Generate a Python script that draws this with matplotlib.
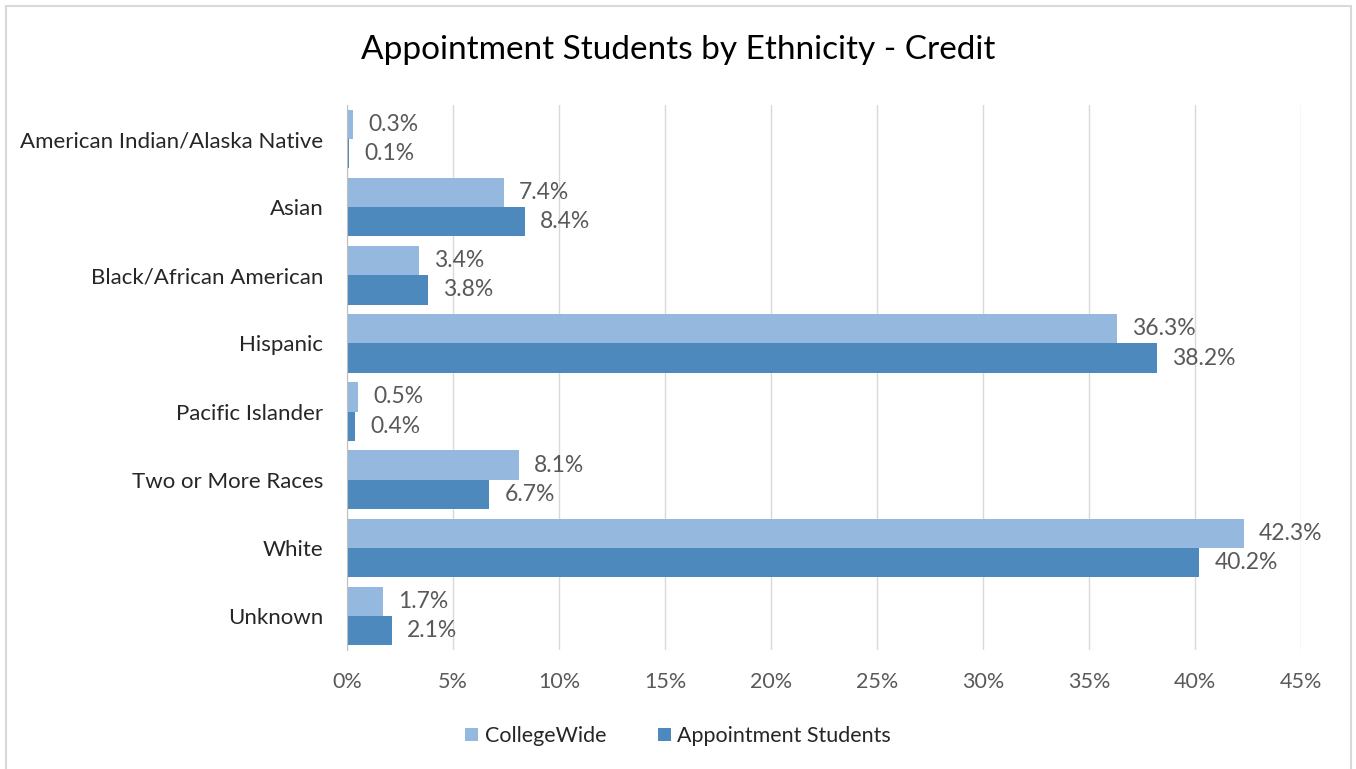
import numpy as np
import matplotlib.pyplot as plt
from matplotlib.patches import Rectangle

plt.rcParams['font.family'] = ['Lato', 'DejaVu Sans']

categories = ['American Indian/Alaska Native', 'Asian', 'Black/African American',
              'Hispanic', 'Pacific Islander', 'Two or More Races', 'White', 'Unknown']
collegewide = [0.3, 7.4, 3.4, 36.3, 0.5, 8.1, 42.3, 1.7]
appointment = [0.1, 8.4, 3.8, 38.2, 0.4, 6.7, 40.2, 2.1]
xticks = [0, 5, 10, 15, 20, 25, 30, 35, 40, 45]

light = '#95B8DF'
dark = '#4E89BE'
grey_txt = '#595959'

fig = plt.figure(figsize=(13.56, 7.69), dpi=100)
ax = fig.add_axes([347 / 1356, 1 - 650 / 769, (1301 - 347) / 1356, (650 - 105) / 769])

# outer chart border
fig.patches.append(Rectangle((6 / 1356, -0.01), (1351 - 6) / 1356, 1 - 6 / 769 + 0.01,
                             transform=fig.transFigure, fill=False,
                             edgecolor='#D9D9D9', linewidth=1.5))

y = np.arange(len(categories))
h = 0.43
b1 = ax.barh(y - h / 2, collegewide, height=h, color=light, label='CollegeWide')
b2 = ax.barh(y + h / 2, appointment, height=h, color=dark, label='Appointment Students')

for bars, vals in ((b1, collegewide), (b2, appointment)):
    for bar, v in zip(bars, vals):
        ax.annotate(f'{v:.1f}%', (v, bar.get_y() + bar.get_height() / 2),
                    xytext=(11, 0), textcoords='offset points',
                    va='center', ha='left', fontsize=16.5, color=grey_txt)

ax.set_ylim(len(categories) - 0.5, -0.5)
ax.set_xlim(0, 45)
ax.set_yticks(y)
ax.set_yticklabels(categories, fontsize=16, color='#262626')
ax.set_xticks(xticks)
ax.set_xticklabels([f'{t}%' for t in xticks], fontsize=15.5, color=grey_txt)
ax.tick_params(axis='both', length=0)
ax.tick_params(axis='y', pad=17)
ax.tick_params(axis='x', pad=16)
ax.grid(axis='x', color='#D9D9D9', linewidth=1)
ax.set_axisbelow(True)
for s in ('top', 'right', 'bottom'):
    ax.spines[s].set_visible(False)
ax.spines['left'].set_color('#BFBFBF')

fig.text(0.5, 1 - 50 / 769, 'Appointment Students by Ethnicity - Credit',
         ha='center', va='center', fontsize=24, color='#000000')

fig.legend(handles=[b1, b2], loc='center', bbox_to_anchor=(0.5, 1 - 736 / 769),
           ncol=2, frameon=False, fontsize=15.5, handlelength=0.6, handleheight=0.6,
           handletextpad=0.3, columnspacing=2.4, labelcolor='#262626')

fig.savefig('out.png', dpi=100)
